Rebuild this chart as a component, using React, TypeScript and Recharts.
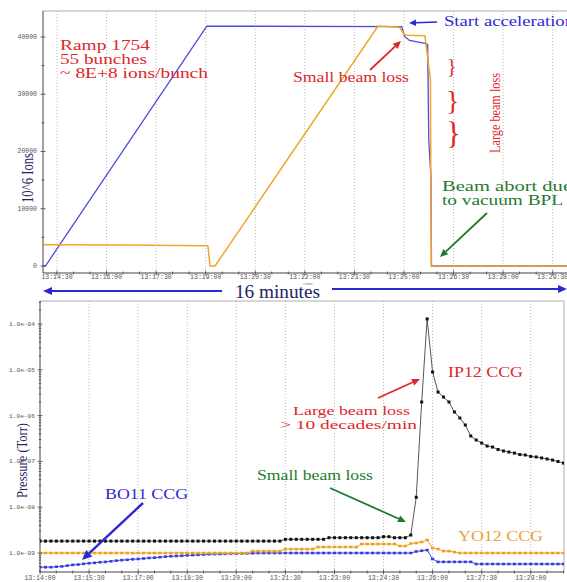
import React from 'react';
import { LineChart, Line, XAxis, YAxis, ReferenceLine } from 'recharts';

// ---------- top panel (10^6 ions vs time, seconds after 13:14:00) ----------
const blueRampT = [5, 9, 302, 656, 661, 670, 698, 703, 705, 709, 710, 956];
const blueRampV = [0, 0, 41900, 41800, 40100, 39400, 38900, 38700, 22000, 15500, 0, 0];
const yellowRampT = [5, 150, 300, 304, 308, 317, 613, 652, 660, 664, 698, 703, 708, 709.5, 956];
const yellowRampV = [3700, 3650, 3520, 3500, 0, 0, 41900, 41700, 40500, 40300, 40200, 36500, 32500, 0, 0];
const topXTicks = [30, 60, 90, 120, 150, 180, 210, 240, 270, 300, 330, 360, 390, 420, 450, 480, 510, 540, 570, 600, 630, 660, 690, 720, 750, 780, 810, 840, 870, 900, 930];
const topXMajor = [30, 120, 210, 300, 390, 480, 570, 660, 750, 840, 930];
const topYTicks = [0, 5000, 10000, 15000, 20000, 25000, 30000, 35000, 40000];

// ---------- bottom panel (pressure, Torr) ----------
const pTime = [0, 10, 20, 30, 40, 50, 60, 70, 80, 90, 100, 110, 120, 130, 140, 150, 160, 170, 180, 190, 200, 210, 220, 230, 240, 250, 260, 270, 280, 290, 300, 310, 320, 330, 340, 350, 360, 370, 380, 390, 400, 410, 420, 430, 440, 450, 460, 470, 480, 490, 500, 510, 520, 530, 540, 550, 560, 570, 580, 590, 600, 610, 620, 630, 640, 650, 660, 670, 680, 690, 700, 710, 720, 730, 740, 750, 760, 770, 780, 790, 800, 810, 820, 830, 840, 850, 860, 870, 880, 890, 900, 910, 920, 930, 940, 950, 960];
const ip12 = [
  1.82e-9, 1.82e-9, 1.82e-9, 1.82e-9, 1.82e-9, 1.82e-9, 1.82e-9, 1.82e-9, 1.82e-9, 1.82e-9,
  1.82e-9, 1.82e-9, 1.82e-9, 1.82e-9, 1.82e-9, 1.82e-9, 1.82e-9, 1.82e-9, 1.82e-9, 1.82e-9,
  1.82e-9, 1.82e-9, 1.82e-9, 1.82e-9, 1.82e-9, 1.82e-9, 1.82e-9, 1.82e-9, 1.82e-9, 1.82e-9,
  1.82e-9, 1.82e-9, 1.82e-9, 1.82e-9, 1.82e-9, 1.82e-9, 1.82e-9, 1.82e-9, 1.82e-9, 1.82e-9,
  1.82e-9, 1.82e-9, 1.82e-9, 1.82e-9, 1.82e-9,
  1.99e-9, 1.99e-9, 1.99e-9, 1.99e-9, 1.99e-9, 1.99e-9, 1.99e-9, 1.99e-9,
  2.16e-9, 2.16e-9, 2.16e-9, 2.16e-9, 2.16e-9, 2.16e-9, 2.16e-9, 2.16e-9, 2.16e-9, 2.16e-9,
  2.27e-9, 2.27e-9,
  2.16e-9, 2.16e-9, 2.16e-9,
  2.47e-9, 1.65e-8,
  1.98e-6, 1.29e-4, 8.95e-6, 3.27e-6, 2.55e-6, 1.98e-6, 1.2e-6, 8.87e-7, 6.24e-7, 3.59e-7,
  2.93e-7, 2.52e-7, 2.17e-7, 2.06e-7, 1.82e-7, 1.69e-7, 1.6e-7, 1.52e-7, 1.41e-7, 1.38e-7,
  1.28e-7, 1.25e-7, 1.19e-7, 1.13e-7, 1.07e-7, 9.95e-8, 9.2e-8,
];
const yo12 = [
  1e-9, 1e-9, 1e-9, 1e-9, 1e-9, 1e-9, 1e-9, 1e-9, 1e-9, 1e-9,
  1e-9, 1e-9, 1e-9, 1e-9, 1e-9, 1e-9, 1e-9, 1e-9, 1e-9, 1e-9,
  1e-9, 1e-9, 1e-9, 1e-9, 1e-9, 1e-9, 1e-9, 1e-9, 1e-9, 1e-9,
  1e-9, 1e-9, 1e-9, 1e-9, 1e-9, 1e-9, 1e-9, 1e-9, 1e-9,
  1.1e-9, 1.1e-9, 1.1e-9, 1.1e-9, 1.1e-9, 1.1e-9,
  1.22e-9, 1.22e-9, 1.22e-9, 1.22e-9, 1.22e-9, 1.22e-9,
  1.35e-9, 1.35e-9, 1.35e-9, 1.35e-9, 1.35e-9, 1.35e-9, 1.35e-9, 1.35e-9,
  1.57e-9, 1.57e-9, 1.57e-9, 1.57e-9, 1.57e-9, 1.57e-9, 1.57e-9,
  1.42e-9, 1.42e-9, 1.61e-9, 1.65e-9, 1.74e-9, 1.92e-9, 1.29e-9, 1.22e-9, 1.1e-9, 1.1e-9, 1.05e-9,
  1e-9, 1e-9, 1e-9, 1e-9, 1e-9, 1e-9, 1e-9, 1e-9, 1e-9, 1e-9,
  1e-9, 1e-9, 1e-9, 1e-9, 1e-9, 1e-9, 1e-9, 1e-9, 1e-9, 1e-9,
];
const bo11 = [
  4.9e-10, 4.9e-10, 4.9e-10, 5.0e-10, 5.1e-10, 5.3e-10, 5.5e-10, 5.6e-10, 5.8e-10, 6.0e-10,
  6.1e-10, 6.3e-10, 6.4e-10, 6.6e-10, 6.8e-10, 7.0e-10, 7.1e-10, 7.3e-10, 7.4e-10, 7.6e-10,
  7.8e-10, 7.9e-10, 8.1e-10, 8.3e-10, 8.5e-10, 8.6e-10, 8.7e-10, 8.9e-10, 9.0e-10, 9.1e-10,
  9.3e-10, 9.4e-10, 9.5e-10, 9.5e-10, 9.6e-10, 9.7e-10, 9.7e-10, 9.8e-10, 9.8e-10, 9.9e-10,
  1e-9, 1e-9, 1e-9, 1e-9, 1e-9, 1e-9, 1e-9, 1e-9, 1e-9, 1e-9,
  1e-9, 1e-9, 1e-9, 1e-9, 1e-9, 1e-9, 1e-9, 1e-9, 1e-9, 1e-9,
  1e-9, 1e-9, 1e-9, 1e-9, 1e-9, 1e-9, 1e-9, 1e-9, 1e-9,
  1.08e-9, 1.12e-9, 1.16e-9, 7.4e-10,
  6.4e-10, 6.4e-10, 6.4e-10, 6.4e-10, 6.4e-10, 6.4e-10, 6.4e-10,
  5.75e-10, 5.75e-10, 5.75e-10, 5.75e-10, 5.75e-10, 5.75e-10, 5.75e-10, 5.75e-10, 5.75e-10,
  5.75e-10, 5.75e-10, 5.75e-10, 5.75e-10, 5.75e-10, 5.75e-10, 5.75e-10, 5.75e-10,
];
const botXTicks = [0, 30, 60, 90, 120, 150, 180, 210, 240, 270, 300, 330, 360, 390, 420, 450, 480, 510, 540, 570, 600, 630, 660, 690, 720, 750, 780, 810, 840, 870, 900, 930, 960];
const botXMajor = [0, 90, 180, 270, 360, 450, 540, 630, 720, 810, 900];
const decadeExps = [-10, -9, -8, -7, -6, -5, -4];
const mantissas = [1, 2, 3, 4, 5, 6, 7, 8, 9];

const topBlueData = blueRampT.map((t, i) => ({ t, v: blueRampV[i] }));
const topYellowData = yellowRampT.map((t, i) => ({ t, v: yellowRampV[i] }));
const pData = pTime.map((t, i) => ({ t, ip12: ip12[i], yo12: yo12[i], bo11: bo11[i] }));
const P_MIN = 3.85e-10;
const P_MAX = 3.18e-4;
const logTicks: number[] = [];
decadeExps.forEach((e) => mantissas.forEach((m) => {
  const v = m * Math.pow(10, e);
  if (v >= P_MIN && v <= P_MAX) logTicks.push(v);
}));

const fmtTime = (s: number) => {
  const m = 14 + Math.floor(s / 60);
  const sec = s % 60;
  return `13:${String(m).padStart(2, '0')}:${String(sec).padStart(2, '0')}`;
};

const MONO = '"Liberation Mono", "DejaVu Sans Mono", monospace';
const SERIF = '"Liberation Serif", "Times New Roman", serif';
const AX = '#444';

const TopXTick = (p: any) => {
  const v = p.payload.value;
  const major = topXMajor.includes(v);
  return (
    <g>
      <line x1={p.x} x2={p.x} y1={p.y - (major ? 2.5 : 1.5)} y2={p.y + (major ? 2.5 : 1.5)} stroke={AX} strokeWidth={0.8} />
      {major && (
        <text x={p.x} y={p.y + 5.5} textAnchor="middle" fontSize={6.5} fontFamily={MONO} fill="#555">{fmtTime(v)}</text>
      )}
    </g>
  );
};
const TopYTick = (p: any) => {
  const v = p.payload.value;
  const major = v % 10000 === 0;
  return (
    <g>
      <line x1={p.x - (major ? 2.5 : 1.5)} x2={p.x + (major ? 2.5 : 1.5)} y1={p.y} y2={p.y} stroke={AX} strokeWidth={0.8} />
      {major && (
        <text x={p.x - 6} y={p.y + 2} textAnchor="end" fontSize={6.5} fontFamily={MONO} fill="#555">{v}</text>
      )}
    </g>
  );
};
const BotXTick = (p: any) => {
  const v = p.payload.value;
  const major = botXMajor.includes(v);
  return (
    <g>
      <line x1={p.x} x2={p.x} y1={p.y - (major ? 2.5 : 1.5)} y2={p.y + (major ? 2.5 : 1.5)} stroke={AX} strokeWidth={0.8} />
      {major && (
        <text x={p.x} y={p.y + 7.5} textAnchor="middle" fontSize={6.5} fontFamily={MONO} fill="#555">{fmtTime(v)}</text>
      )}
    </g>
  );
};
const BotYTick = (p: any) => {
  const v = p.payload.value;
  const e = Math.round(Math.log10(v));
  const major = Math.abs(v / Math.pow(10, e) - 1) < 1e-6;
  return (
    <g>
      <line x1={p.x - (major ? 2.5 : 1.2)} x2={p.x + (major ? 2.5 : 1.2)} y1={p.y} y2={p.y} stroke={AX} strokeWidth={0.8} />
      {major && (
        <text x={p.x - 5} y={p.y + 2} textAnchor="end" fontSize={6.2} fontFamily={MONO} fill="#555">{`1.0e-${String(-e).padStart(2, '0')}`}</text>
      )}
    </g>
  );
};

const makeDot = (color: string, w: number, h: number) => (p: any) => (
  <rect key={`d${p.index}`} x={p.cx - w / 2} y={p.cy - h / 2} width={w} height={h} fill={color} />
);

const Arrow = ({ x1, y1, x2, y2, color, w = 1.6, head = 7 }: any) => {
  const a = Math.atan2(y2 - y1, x2 - x1);
  const bx = x2 - head * Math.cos(a);
  const by = y2 - head * Math.sin(a);
  const hw = head * 0.45;
  const px = -Math.sin(a) * hw;
  const py = Math.cos(a) * hw;
  return (
    <g>
      <line x1={x1} y1={y1} x2={bx} y2={by} stroke={color} strokeWidth={w} />
      <polygon points={`${x2},${y2} ${bx + px},${by + py} ${bx - px},${by - py}`} fill={color} />
    </g>
  );
};

const T = ({ x, y, children, fill, size = 14, len }: any) => (
  <text x={x} y={y} fill={fill} fontSize={size} fontFamily={SERIF} textLength={len} lengthAdjust="spacingAndGlyphs">{children}</text>
);

const RED = '#e0262b';
const GREEN = '#1f7a2c';
const BLUE = '#2a2ad2';
const NAVY = '#23235f';
const ORANGE = '#e9a233';

export default function App() {
  return (
    <div style={{ position: 'absolute', left: 0, top: 0, width: 567, height: 582, background: '#fff', overflow: 'hidden' }}>
      <div style={{ position: 'absolute', left: 0, top: 0 }}>
        <LineChart width={567} height={300} margin={{ top: 11, right: 0, bottom: 0, left: 0 }}>
          <XAxis type="number" dataKey="t" domain={[4.6, 956]} ticks={topXTicks} tick={<TopXTick />} tickSize={0} tickMargin={0} tickLine={false} height={27} stroke={AX} allowDataOverflow interval={0} />
          <YAxis type="number" domain={[-1223, 44540]} ticks={topYTicks} tick={<TopYTick />} tickSize={0} tickMargin={0} tickLine={false} width={43} stroke={AX} allowDataOverflow interval={0} />
          {topXMajor.map((t) => (
            <ReferenceLine key={t} x={t} stroke="#aaa" strokeDasharray="1 2" strokeWidth={0.8} />
          ))}
          <ReferenceLine y={44540} stroke="#999" strokeWidth={0.8} />
          <Line data={topBlueData} dataKey="v" stroke="#4d4ddd" strokeWidth={1.3} dot={false} isAnimationActive={false} type="linear" />
          <Line data={topYellowData} dataKey="v" stroke="#f2a52a" strokeWidth={1.5} dot={false} isAnimationActive={false} type="linear" />
        </LineChart>
      </div>
      <div style={{ position: 'absolute', left: 0, top: 290 }}>
        <LineChart width={567} height={292} data={pData} margin={{ top: 11, right: 3, bottom: 0, left: 0 }}>
          <XAxis type="number" dataKey="t" domain={[0, 961]} ticks={botXTicks} tick={<BotXTick />} tickSize={0} tickMargin={0} tickLine={false} height={10} stroke={AX} allowDataOverflow interval={0} />
          <YAxis type="number" scale="log" domain={[P_MIN, P_MAX]} ticks={logTicks} tick={<BotYTick />} tickSize={0} tickMargin={0} tickLine={false} width={40} stroke={AX} allowDataOverflow interval={0} />
          {botXMajor.filter((t) => t > 0).map((t) => (
            <ReferenceLine key={t} x={t} stroke="#aaa" strokeDasharray="1 2" strokeWidth={0.8} />
          ))}
          <ReferenceLine y={P_MAX} stroke="#999" strokeWidth={0.8} />
          <ReferenceLine x={961} stroke="#999" strokeWidth={0.8} />
          <Line dataKey="bo11" stroke="#4b4be6" strokeWidth={1} dot={makeDot('#3b3be0', 3.2, 2.6)} isAnimationActive={false} type="linear" />
          <Line dataKey="yo12" stroke="#f0a428" strokeWidth={1} dot={makeDot('#f0a020', 3.4, 2.6)} isAnimationActive={false} type="linear" />
          <Line dataKey="ip12" stroke="#444" strokeWidth={0.9} dot={makeDot('#111', 3, 3)} isAnimationActive={false} type="linear" />
        </LineChart>
      </div>
      <svg width={567} height={582} style={{ position: 'absolute', left: 0, top: 0, pointerEvents: 'none' }}>
        {/* top panel annotations */}
        <T x={60} y={50} fill={RED} size={14} len={90}>Ramp 1754</T>
        <T x={60} y={64} fill={RED} size={14} len={87}>55 bunches</T>
        <T x={60} y={78} fill={RED} size={14} len={148}>~ 8E+8 ions/bunch</T>
        <T x={444} y={26} fill={BLUE} size={14} len={130}>Start acceleration</T>
        <Arrow x1={437} y1={22} x2={409} y2={23} color={BLUE} w={1.6} head={7} />
        <T x={293} y={82} fill={RED} size={14} len={116}>Small beam loss</T>
        <Arrow x1={370} y1={70} x2={401} y2={41} color={RED} w={1.8} head={8} />
        <text x={447} y={73} fill={RED} fontSize={20} fontFamily={SERIF}>{'}'}</text>
        <text x={446} y={110} fill={RED} fontSize={28} fontFamily={SERIF}>{'}'}</text>
        <text x={446} y={144} fill={RED} fontSize={31} fontFamily={SERIF}>{'}'}</text>
        <g transform="translate(500,153) rotate(-90)">
          <text x={0} y={0} fill={RED} fontSize={15} fontFamily={SERIF} textLength={80} lengthAdjust="spacingAndGlyphs">Large beam loss</text>
        </g>
        <T x={442} y={191} fill={GREEN} size={14} len={130}>Beam abort due</T>
        <T x={442} y={205} fill={GREEN} size={14} len={121}>to vacuum BPL</T>
        <Arrow x1={487} y1={213} x2={440} y2={257} color={GREEN} w={1.8} head={8} />
        <g transform="translate(33,203) rotate(-90)">
          <text x={0} y={0} fill={NAVY} fontSize={16} fontFamily={SERIF} textLength={50} lengthAdjust="spacingAndGlyphs">10^6 Ions</text>
        </g>
        <text x={303} y={285} fill="#777" fontSize={4} fontFamily={MONO}>Time</text>
        <T x={235} y={298} fill={NAVY} size={18} len={85}>16 minutes</T>
        <Arrow x1={222} y1={291} x2={43} y2={291} color={BLUE} w={2} head={9} />
        <Arrow x1={332} y1={289} x2={567} y2={289} color={BLUE} w={2} head={9} />
        {/* bottom panel annotations */}
        <g transform="translate(27,498) rotate(-90)">
          <text x={0} y={0} fill={NAVY} fontSize={15} fontFamily={SERIF} textLength={75} lengthAdjust="spacingAndGlyphs">Pressure (Torr)</text>
        </g>
        <T x={448} y={377} fill={RED} size={14} len={75}>IP12 CCG</T>
        <Arrow x1={378} y1={398} x2={420} y2={379} color={RED} w={1.8} head={8} />
        <T x={293} y={415} fill={RED} size={12.5} len={117}>Large beam loss</T>
        <T x={280} y={429} fill={RED} size={12.5} len={137}>&gt; 10 decades/min</T>
        <T x={257} y={480} fill={GREEN} size={14} len={116}>Small beam loss</T>
        <Arrow x1={330} y1={488} x2={406} y2={522} color={GREEN} w={1.8} head={8} />
        <T x={458} y={541} fill={ORANGE} size={14} len={85}>YO12 CCG</T>
        <T x={105} y={499} fill={BLUE} size={14} len={83}>BO11 CCG</T>
        <Arrow x1={143} y1={503} x2={82} y2={560} color={BLUE} w={2.4} head={10} />
      </svg>
    </div>
  );
}
